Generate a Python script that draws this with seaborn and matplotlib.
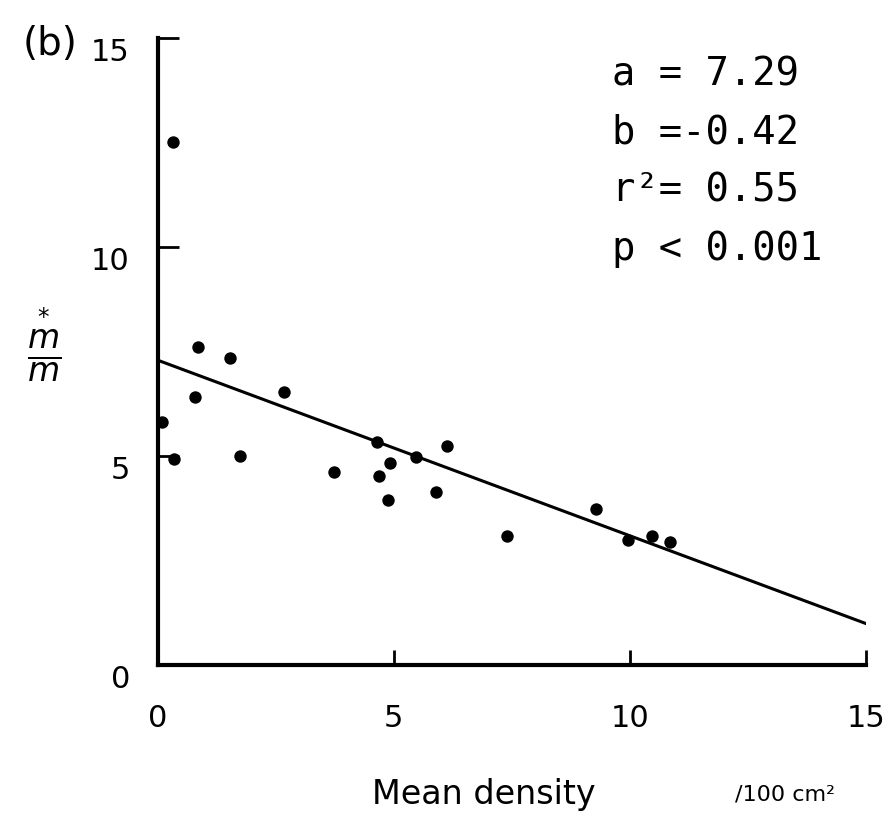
import numpy as np
import pandas as pd
import matplotlib
matplotlib.use('Agg')
import matplotlib.pyplot as plt
import matplotlib.transforms as mtransforms
import seaborn as sns

# data
mean_density = [0.32, 0.85, 1.53, 0.79, 2.68, 0.10, 0.34, 1.74, 3.74, 4.64,
                 4.92, 4.68, 4.87, 5.47, 6.13, 5.89, 7.40, 9.28, 9.96, 10.47, 10.85]
crowding_ratio = [12.50, 7.60, 7.34, 6.40, 6.53, 5.80, 4.93, 5.00, 4.62, 5.33,
                  4.83, 4.52, 3.95, 4.98, 5.24, 4.14, 3.09, 3.73, 2.99, 3.09, 2.94]

# regression reported in the figure
fit_a = 7.29
fit_b = -0.42
fit_x = [0, 15]
stats_lines = ['a = 7.29', 'b =-0.42', 'r\u00b2= 0.55', 'p < 0.001']
ticks = [0, 5, 10, 15]

df = pd.DataFrame({'density': mean_density, 'ratio': crowding_ratio})

sns.set_style('ticks')
plt.rcParams['font.family'] = ['DejaVu Sans']
for key in ['text.color', 'axes.edgecolor', 'axes.labelcolor', 'xtick.color', 'ytick.color']:
    plt.rcParams[key] = 'black'

fig = plt.figure(figsize=(8.91, 8.22), dpi=100)
ax = fig.add_axes([0.177, 0.191, 0.795, 0.763])

sns.scatterplot(data=df, x='density', y='ratio', color='black', s=80,
                edgecolor='black', linewidth=0, ax=ax, zorder=3)
fit_y = [fit_a + fit_b * v for v in fit_x]
ax.plot(fit_x, fit_y, color='black', lw=2.2)

ax.set_xlim(0, 15)
ax.set_ylim(0, 15)
ax.set_xticks(ticks)
ax.set_yticks(ticks)
sns.despine(ax=ax)
for side in ['left', 'bottom']:
    ax.spines[side].set_linewidth(3)
ax.tick_params(axis='both', direction='in', width=2, labelsize=22)
ax.tick_params(axis='x', length=11, pad=28)
ax.tick_params(axis='y', length=15, pad=20)
ax.xaxis.get_major_ticks()[0].tick1line.set_visible(False)
ax.yaxis.get_major_ticks()[0].tick1line.set_visible(False)

# y tick labels sit a little below their ticks in the original
shift = mtransforms.ScaledTranslation(0, -12 / 100, fig.dpi_scale_trans)
for lab in ax.get_yticklabels():
    lab.set_transform(lab.get_transform() + shift)

ax.set_xlabel('Mean density', fontsize=24, va='center')
ax.xaxis.set_label_coords(0.46, -0.207)
ax.text(0.886, -0.207, '/100 cm\u00b2', transform=ax.transAxes, fontsize=16,
        ha='center', va='center')

ax.set_ylabel(r'$\frac{\overset{*}{m}}{m}$', fontsize=34, rotation=0, va='center')
ax.yaxis.set_label_coords(-0.16, 0.51)

fig.text(50 / 891, 1 - 44 / 822, '(b)', fontsize=28, ha='center', va='center')

for i, line in enumerate(stats_lines):
    fig.text(612 / 891, 1 - (75 + 58 * i) / 822, line, fontsize=28,
             family='DejaVu Sans Mono', ha='left', va='center')

fig.savefig('out.png', dpi=100, facecolor='white')
